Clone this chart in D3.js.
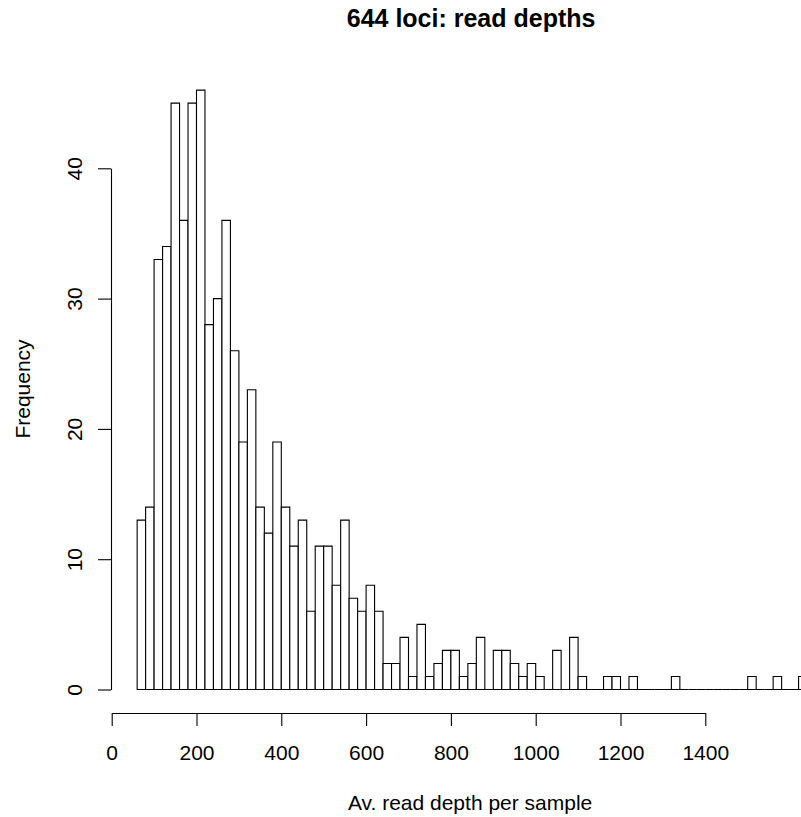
<!DOCTYPE html>
<html>
<head>
<meta charset="utf-8">
<script src="https://cdn.jsdelivr.net/npm/d3@7"></script>
<style>
  html, body { margin: 0; padding: 0; background: #fff; overflow: hidden; }
  svg { display: block; }
  text { font-family: "Liberation Sans", Arial, sans-serif; fill: #000; }
</style>
</head>
<body>
<script>
// ---- data ----
const title = "644 loci: read depths";
const xLabel = "Av. read depth per sample";
const yLabel = "Frequency";
const binWidth = 20;
const binStarts = [
  60, 80, 100, 120, 140, 160, 180, 200, 220, 240,
  260, 280, 300, 320, 340, 360, 380, 400, 420, 440,
  460, 480, 500, 520, 540, 560, 580, 600, 620, 640,
  660, 680, 700, 720, 740, 760, 780, 800, 820, 840,
  860, 880, 900, 920, 940, 960, 980, 1000, 1020, 1040,
  1060, 1080, 1100, 1120, 1140, 1160, 1180, 1200, 1220, 1240,
  1260, 1280, 1300, 1320, 1340, 1360, 1380, 1400, 1420, 1440,
  1460, 1480, 1500, 1520, 1540, 1560, 1580, 1600, 1620
];
const counts = [
  13, 14, 33, 34, 45, 36, 45, 46, 28, 30,
  36, 26, 19, 23, 14, 12, 19, 14, 11, 13,
  6, 11, 11, 8, 13, 7, 6, 8, 6, 2,
  2, 4, 1, 5, 1, 2, 3, 3, 1, 2,
  4, 0, 3, 3, 2, 1, 2, 1, 0, 3,
  0, 4, 1, 0, 0, 1, 1, 0, 1, 0,
  0, 0, 0, 1, 0, 0, 0, 0, 0, 0,
  0, 0, 1, 0, 0, 1, 0, 0, 1
];
const xTicks = [0, 200, 400, 600, 800, 1000, 1200, 1400];
const yTicks = [0, 10, 20, 30, 40];

// ---- layout ----
const W = 801, H = 817;
const svg = d3.select("body").append("svg").attr("width", W).attr("height", H);

const x = d3.scaleLinear().domain([0, 1400]).range([111.7, 705.3]);
const y = d3.scaleLinear().domain([0, 40]).range([689.5, 168.3]);
const xAxisY = 713;
const yAxisX = 111;
const centerX = x(850) - 1;

const bins = binStarts.map((s, i) => ({ x0: s, x1: s + binWidth, n: counts[i] }));

// bars (as closed paths so that empty bins still draw their baseline edge, like R's hist)
svg.append("g")
  .selectAll("path")
  .data(bins)
  .join("path")
  .attr("d", d => {
    const p = d3.path();
    p.moveTo(x(d.x0), y(0));
    p.lineTo(x(d.x0), y(d.n));
    p.lineTo(x(d.x1), y(d.n));
    p.lineTo(x(d.x1), y(0));
    p.closePath();
    return p.toString();
  })
  .attr("fill", "#fff")
  .attr("stroke", "#000")
  .attr("stroke-width", 1.1);

// x axis
const gx = svg.append("g")
  .attr("transform", `translate(0,${xAxisY})`)
  .call(d3.axisBottom(x).tickValues(xTicks).tickFormat(d3.format("d")).tickSize(13).tickSizeOuter(0));
gx.select(".domain").attr("stroke", "#000").attr("stroke-width", 1.1);
gx.selectAll(".tick line").attr("stroke", "#000").attr("stroke-width", 1.1);
gx.selectAll(".tick text")
  .attr("y", 47).attr("dy", null)
  .style("font-family", '"Liberation Sans", Arial, sans-serif')
  .style("font-size", "21px").attr("fill", "#000");

// y axis
const gy = svg.append("g")
  .attr("transform", `translate(${yAxisX},0)`)
  .call(d3.axisLeft(y).tickValues(yTicks).tickFormat(d3.format("d")).tickSize(13).tickSizeOuter(0));
gy.select(".domain").attr("stroke", "#000").attr("stroke-width", 1.1);
gy.selectAll(".tick line").attr("stroke", "#000").attr("stroke-width", 1.1);
gy.selectAll(".tick text")
  .attr("x", null).attr("dy", null)
  .attr("text-anchor", "middle")
  .attr("transform", "translate(-29.5,0) rotate(-90)")
  .style("font-family", '"Liberation Sans", Arial, sans-serif')
  .style("font-size", "21px").attr("fill", "#000");

// title
svg.append("text")
  .attr("x", centerX).attr("y", 27)
  .attr("text-anchor", "middle")
  .style("font-size", "25px").style("font-weight", "bold")
  .text(title);

// x label
svg.append("text")
  .attr("x", centerX - 1).attr("y", 810)
  .attr("text-anchor", "middle")
  .style("font-size", "21px")
  .text(xLabel);

// y label
svg.append("text")
  .attr("transform", `translate(30,389) rotate(-90)`)
  .attr("text-anchor", "middle")
  .style("font-size", "21px")
  .text(yLabel);
</script>
</body>
</html>
